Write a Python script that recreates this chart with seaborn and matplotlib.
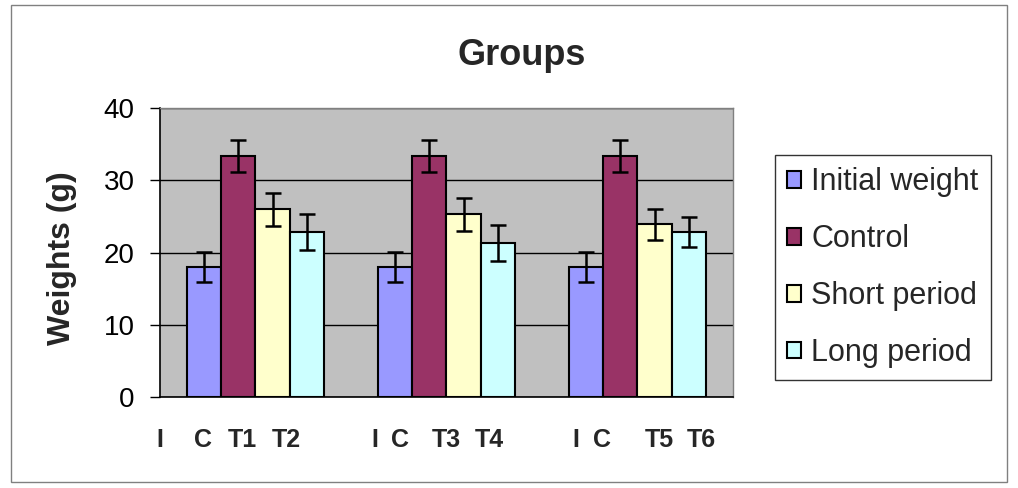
import numpy as np
import pandas as pd
import matplotlib
matplotlib.use('Agg')
import matplotlib.pyplot as plt
import seaborn as sns
from matplotlib.patches import Rectangle

# --- DATA ---
groups = ['Group 1', 'Group 2', 'Group 3']
series = ['Initial weight', 'Control', 'Short period', 'Long period']
initial = [18.0, 18.0, 18.0]
control = [33.4, 33.4, 33.4]
short_period = [26.0, 25.3, 23.9]
long_period = [22.8, 21.3, 22.8]
initial_err = [2.1, 2.1, 2.1]
control_err = [2.2, 2.2, 2.2]
short_err = [2.3, 2.3, 2.1]
long_err = [2.5, 2.5, 2.1]
bar_labels = ['I', 'C', 'T1', 'T2', 'I', 'C', 'T3', 'T4', 'I', 'C', 'T5', 'T6']
y_ticks = [0, 10, 20, 30, 40]

colors = ['#9999FF', '#993366', '#FFFFCC', '#CCFFFF']

df = pd.DataFrame({
    'group': groups * 4,
    'series': np.repeat(series, 3),
    'weight': initial + control + short_period + long_period,
    'err': initial_err + control_err + short_err + long_err,
})

# --- STYLE ---
sns.set_style('white')
plt.rcParams['font.family'] = ['Liberation Sans', 'DejaVu Sans']

fig = plt.figure(figsize=(10.18, 4.88), dpi=100)
ax = fig.add_axes([0.157, 0.187, 0.563, 0.591])

sns.barplot(data=df, x='group', y='weight', hue='series', order=groups,
            hue_order=series, palette=colors, width=0.72, errorbar=None,
            saturation=1, edgecolor='black', linewidth=1.5, ax=ax)

# error bars on top of each bar
for cont, s in zip(ax.containers, series):
    sub = df[df['series'] == s].set_index('group').loc[groups]
    xs = [b.get_x() + b.get_width() / 2 for b in cont]
    ys = [b.get_height() for b in cont]
    ax.errorbar(xs, ys, yerr=sub['err'].values, fmt='none', ecolor='black',
                elinewidth=1.8, capsize=6, capthick=1.8, zorder=4)

ax.set_facecolor('#C0C0C0')
ax.set_xlim(-0.5, 2.5)
ax.set_ylim(0, 40)
ax.set_yticks(y_ticks)
ax.set_xticks([])
ax.set_xlabel('')
ax.yaxis.grid(True, color='black', linewidth=1)
ax.set_axisbelow(True)
ax.tick_params(axis='y', left=True, direction='out', length=7, width=1,
               pad=11, labelsize=20, colors='black')
for side in ['left', 'bottom']:
    ax.spines[side].set_color('black')
    ax.spines[side].set_linewidth(1.2)
for side in ['top', 'right']:
    ax.spines[side].set_color('#808080')
    ax.spines[side].set_linewidth(1)

ax.set_ylabel('Weights (g)', fontsize=23, fontweight='bold')
ax.yaxis.set_label_coords(-0.145, 0.48)

# legend outside the plot area
leg_old = ax.get_legend()
handles = leg_old.legend_handles
labels = [t.get_text() for t in leg_old.get_texts()]
leg_old.remove()
leg = fig.legend(handles, labels, loc='upper left', bbox_to_anchor=(0.761, 0.682),
                 borderaxespad=0, frameon=True, fancybox=False, edgecolor='black',
                 fontsize=22, handlelength=0.45, handleheight=0.45,
                 handletextpad=0.35, labelspacing=0.88, borderpad=0.4)
leg.get_frame().set_linewidth(1)

fig.text(0.512, 0.886, 'Groups', ha='center', va='center', fontsize=26,
         fontweight='bold')

# hand-placed letters under the bars
label_x = [160, 203, 242, 286, 375, 400, 446, 489, 576, 602, 659, 701]
for lx, lbl in zip(label_x, bar_labels):
    fig.text(lx / 1018, 0.098, lbl, ha='center', va='center', fontsize=18,
             fontweight='bold')

fig.patches.append(Rectangle((0.011, 0.012), 0.978, 0.978, transform=fig.transFigure,
                             fill=False, edgecolor='#808080', linewidth=1))

fig.savefig('out.png', dpi=100)
